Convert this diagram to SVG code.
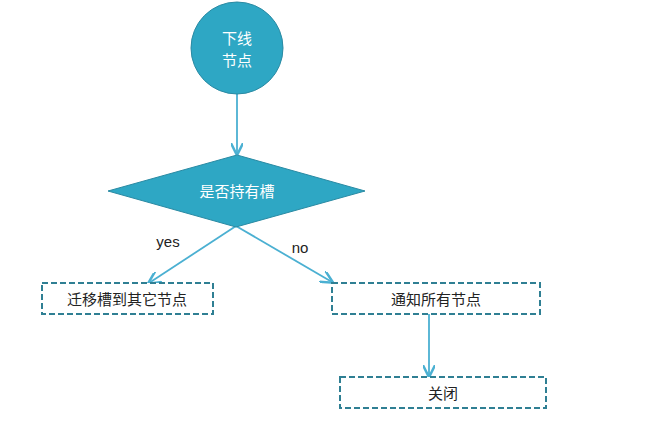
<svg xmlns="http://www.w3.org/2000/svg" width="645" height="424" viewBox="0 0 645 424">
<defs>
<style>
.t{font-family:"Liberation Sans","Noto Sans CJK SC",sans-serif;font-size:15px;text-anchor:middle;dominant-baseline:central}
.b{fill:#fff;stroke:#2f7f93;stroke-width:2;stroke-dasharray:6 3}
.c{stroke:#4bb0d2;stroke-width:1.8;fill:none;marker-end:url(#a)}
</style>
<marker id="a" viewBox="0 0 10 10" refX="9" refY="5" markerWidth="7" markerHeight="7" orient="auto"><path d="M0,0L10,5L0,10" fill="none" stroke="#4bb0d2" stroke-width="2"/></marker>
</defs>
<rect width="645" height="424" fill="#fff"/>
<g id="connectors">
<line class="c" x1="237" y1="93" x2="237" y2="154"/>
<line class="c" x1="236" y1="226" x2="149" y2="283"/>
<line class="c" x1="236" y1="226" x2="332" y2="282"/>
<line class="c" x1="429" y1="314" x2="429" y2="376"/>
<text class="t" x="168" y="241" fill="#222" font-size="14">yes</text>
<text class="t" x="300" y="247" fill="#222" font-size="14">no</text>
</g>
<g id="start"><circle cx="237" cy="48" r="46" fill="#2ea7c4" stroke="#2a8aa3" stroke-width="1"/>
<text class="t" x="237" y="38" fill="#fff">下线</text><text class="t" x="237" y="60" fill="#fff">节点</text></g>
<g id="decision"><polygon points="237,155 365,191 236,227 108,191" fill="#2ea7c4" stroke="#2a8aa3"/>
<text class="t" x="237" y="191" fill="#fff">是否持有槽</text></g>
<g id="migrate"><rect class="b" x="42" y="283" width="171" height="31"/><text class="t" x="127" y="299" fill="#222">迁移槽到其它节点</text></g>
<g id="notify"><rect class="b" x="332" y="283" width="208" height="31"/><text class="t" x="436" y="299" fill="#222">通知所有节点</text></g>
<g id="close"><rect class="b" x="340" y="377" width="206" height="31"/><text class="t" x="443" y="393" fill="#222">关闭</text></g>
</svg>
